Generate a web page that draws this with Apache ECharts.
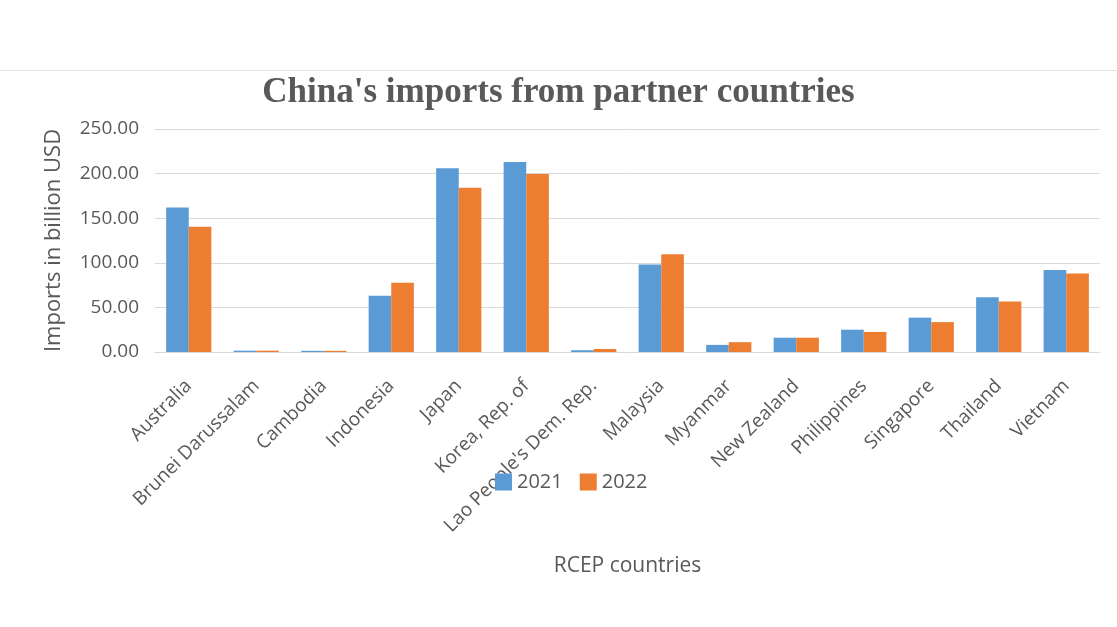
<!DOCTYPE html>
<html>
<head>
<meta charset="utf-8">
<script src="https://cdn.jsdelivr.net/npm/echarts@6/dist/echarts.min.js"></script>
<style>
  html, body { margin: 0; padding: 0; background: #fff; }
  #main { width: 1117px; height: 627px; }
  .topline { position: absolute; left: 0; top: 70px; width: 1117px; height: 1px; background: #e3e3e3; }
</style>
</head>
<body>
<div class="topline"></div>
<div id="main"></div>
<script>
// categories and values
const countries = ['Australia', 'Brunei Darussalam', 'Cambodia', 'Indonesia', 'Japan', 'Korea, Rep. of',
  "Lao People's Dem. Rep.", 'Malaysia', 'Myanmar', 'New Zealand', 'Philippines', 'Singapore', 'Thailand', 'Vietnam'];
const years = ['2021', '2022'];
const imports2021 = [162.0, 1.5, 1.3, 63.0, 206.0, 213.0, 2.0, 98.0, 8.0, 16.0, 25.0, 38.5, 61.5, 92.0];
const imports2022 = [140.5, 1.5, 1.3, 77.5, 184.0, 199.5, 3.4, 109.5, 11.0, 16.0, 22.5, 33.5, 56.5, 88.0];
const colors = ['#5b9bd5', '#ed7d31'];

var chart = echarts.init(document.getElementById('main'));

let series = [];
[imports2021, imports2022].forEach((item, index) => {
  series.push({
    name: years[index],
    type: 'bar',
    barGap: 0,
    barCategoryGap: '33%',
    data: item
  });
});

chart.setOption({
  color: colors,
  animation: false,
  title: {
    text: "China's imports from partner countries",
    left: 'center',
    top: 70,
    textStyle: {
      fontFamily: 'Liberation Serif',
      fontWeight: 'bold',
      fontSize: 35,
      color: '#595959'
    }
  },
  legend: {
    data: years,
    icon: 'rect',
    left: 490,
    top: 467,
    itemWidth: 17,
    itemHeight: 17,
    itemGap: 17,
    textStyle: { fontFamily: 'Open Sans', fontSize: 20, color: '#595959' }
  },
  grid: {
    left: 155,
    right: 17,
    top: 129,
    bottom: 275
  },
  xAxis: {
    type: 'category',
    data: countries,
    name: 'RCEP countries',
    nameLocation: 'middle',
    nameGap: 204,
    nameTextStyle: { fontFamily: 'Open Sans', fontSize: 21, color: '#595959' },
    axisLine: { lineStyle: { color: '#d9d9d9' } },
    axisTick: { show: false },
    axisLabel: {
      rotate: 45,
      interval: 0,
      margin: 31,
      fontFamily: 'Open Sans',
      fontSize: 19,
      color: '#595959'
    }
  },
  yAxis: {
    type: 'value',
    min: 0,
    max: 250,
    interval: 50,
    name: 'Imports in billion USD',
    nameLocation: 'middle',
    nameGap: 90,
    nameTextStyle: { fontFamily: 'Open Sans', fontSize: 22, color: '#595959' },
    axisLabel: {
      formatter: v => v.toFixed(2),
      margin: 16,
      fontFamily: 'Open Sans',
      fontSize: 19,
      color: '#595959'
    },
    splitLine: { lineStyle: { color: '#d9d9d9' } }
  },
  series: series
});
</script>
</body>
</html>
